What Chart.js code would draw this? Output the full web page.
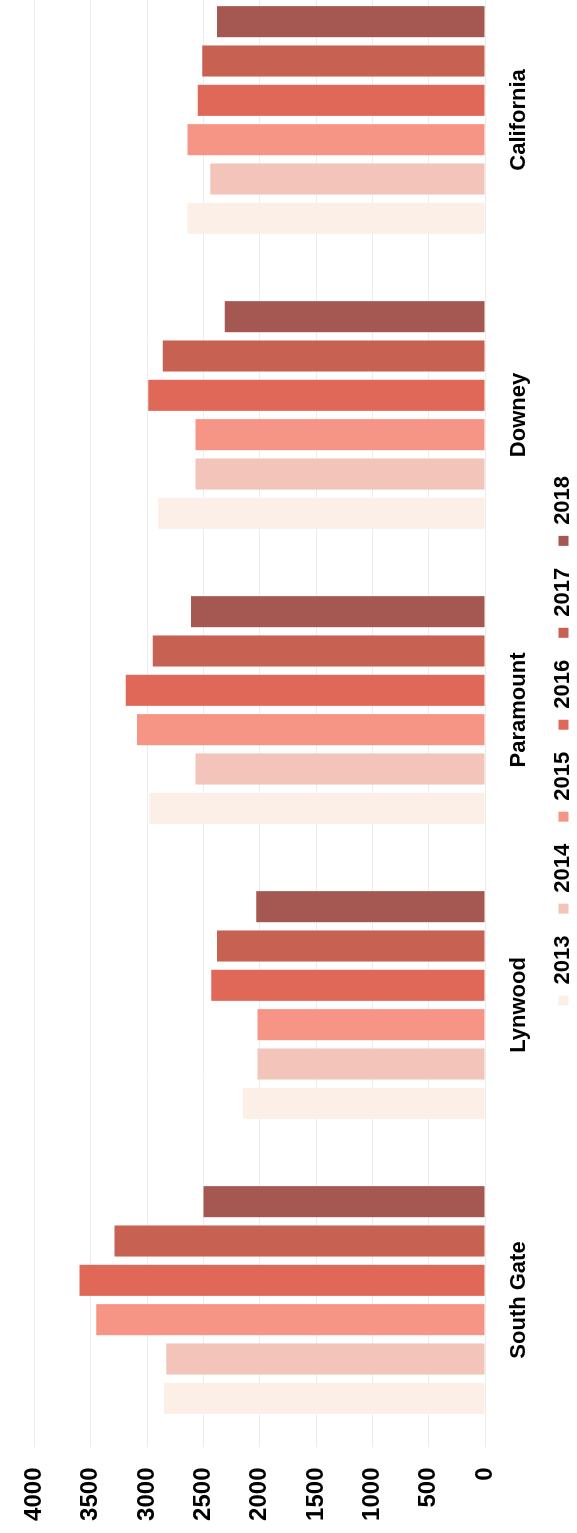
<!DOCTYPE html>
<html>
<head>
<meta charset="utf-8">
<script src="https://cdn.jsdelivr.net/npm/chart.js@4.4.1/dist/chart.umd.min.js"></script>
<style>
  html, body { margin: 0; padding: 0; background: #fff; overflow: hidden; width: 577px; height: 1533px; }
  /* the chart is drawn upright and turned a quarter turn to the left */
  #giro { position: absolute; left: 0; top: 0; transform-origin: 0 0; transform: translateY(1533px) rotate(-90deg); }
</style>
</head>
<body>
<div id="giro"><canvas id="grafico" width="1581" height="588"></canvas></div>
<script>
const categorias = ['South Gate', 'Lynwood', 'Paramount', 'Downey', 'California'];
const anios = ['2013', '2014', '2015', '2016', '2017', '2018'];

const valores2013 = [2850, 2150, 2980, 2900, 2640];
const valores2014 = [2830, 2020, 2570, 2570, 2440];
const valores2015 = [3450, 2020, 3090, 2570, 2640];
const valores2016 = [3600, 2430, 3190, 2990, 2550];
const valores2017 = [3290, 2380, 2950, 2860, 2510];
const valores2018 = [2500, 2030, 2610, 2310, 2380];

const colores = ['#FCEFE7', '#F3C4BA', '#F69485', '#E06858', '#C76152', '#A55852'];

// the legend in the original sits a little off the centre of the canvas
const moverLeyenda = {
    id: 'moverLeyenda',
    afterLayout: function (chart) {
        chart.legend.left += 12;
        chart.legend.right += 12;
    }
};

function dibujarGrafico() {
    const series = [valores2013, valores2014, valores2015, valores2016, valores2017, valores2018];
    const datos = {
        labels: categorias,
        datasets: anios.map((anio, i) => ({
            label: anio,
            data: series[i],
            backgroundColor: colores[i],
            borderWidth: 0,
            categoryPercentage: 0.8,
            barPercentage: 0.79
        }))
    };

    const fuente = { family: "'Liberation Sans', Arial, sans-serif", weight: 'bold', size: 22 };

    const ctx = document.getElementById('grafico').getContext('2d');
    new Chart(ctx, {
        type: 'bar',
        data: datos,
        plugins: [moverLeyenda],
        options: {
            responsive: false,
            animation: false,
            devicePixelRatio: 1,
            layout: { autoPadding: false, padding: { left: 0, right: 20.5, top: 27, bottom: 3.6 } },
            scales: {
                x: {
                    grid: { display: false },
                    border: { display: false },
                    ticks: { color: '#000', font: fuente, padding: 13, maxRotation: 0, autoSkip: false },
                    afterFit: function (escala) { escala.height = 45.4; }
                },
                y: {
                    min: 0,
                    max: 4000,
                    grid: { color: 'rgba(0,0,0,0.07)', drawTicks: false },
                    border: { display: false },
                    ticks: {
                        stepSize: 500,
                        color: '#000',
                        font: { family: fuente.family, weight: 'bold', size: 24 },
                        padding: 20,
                        callback: function (value) {
                            return String(value);
                        }
                    },
                    afterFit: function (escala) { escala.width = 85.5; }
                }
            },
            plugins: {
                legend: {
                    position: 'bottom',
                    labels: { boxWidth: 10, boxHeight: 10, padding: 22, color: '#000', font: fuente }
                },
                tooltip: { enabled: false }
            }
        }
    });
}

dibujarGrafico();
</script>
</body>
</html>
